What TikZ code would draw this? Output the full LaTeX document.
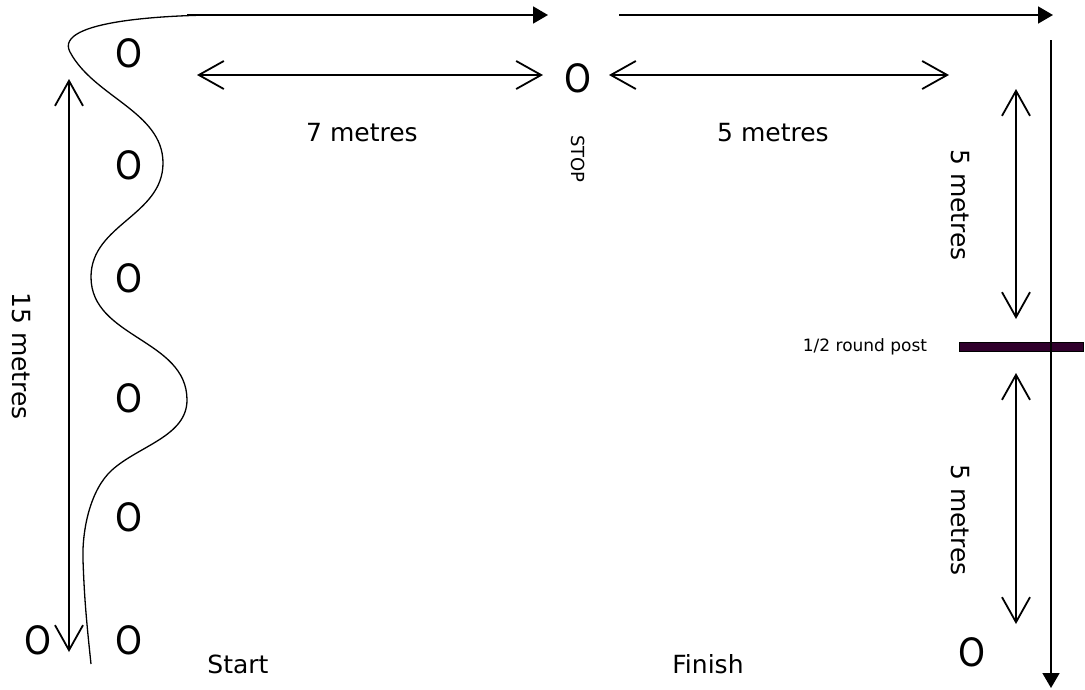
\documentclass[tikz,border=0pt]{standalone}
\usepackage{fontspec}
\setmainfont{DejaVu Sans}
\usetikzlibrary{arrows.meta}
\begin{document}
\begin{tikzpicture}[x=1pt,y=1pt,
  lbl/.style={font=\fontsize{25}{28}\selectfont, inner sep=0pt},
  smalllbl/.style={font=\fontsize{17}{20}\selectfont, inner sep=0pt},
  stoplbl/.style={font=\fontsize{18}{20}\selectfont, inner sep=0pt},
  cone/.style={font=\fontsize{39}{39}\selectfont, inner sep=0pt, transform shape, xscale=0.88},
  route/.style={line width=1.8pt, -{Triangle[length=15pt,width=17pt]}},
  measure/.style={line width=1.8pt, {Straight Barb[length=25pt,width=28pt]}-{Straight Barb[length=25pt,width=28pt]}},
  weave/.style={line width=1.3pt},
  postbar/.style={draw=black, line width=1pt, fill={rgb,255:red,48;green,0;blue,44}}
]
\useasboundingbox (0,0) rectangle (1085,-689);

% cones (O)
\node[cone] (c1) at (129,-53) {O};
\node[cone] (c2) at (129,-165) {O};
\node[cone] (c3) at (129,-278) {O};
\node[cone] (c4) at (129,-398) {O};
\node[cone] (c5) at (129,-517) {O};
\node[cone] (c6) at (129,-640) {O};
\node[cone] (c7) at (38,-640) {O};
\node[cone] (stopcone) at (578,-78) {O};
\node[cone] (endcone) at (972,-652) {O};

% labels
\node[lbl] (l7) at (362,-133) {7 metres};
\node[lbl] (l5a) at (773,-133) {5 metres};
\node[stoplbl, rotate=-90] (stop) at (578,-159) {STOP};
\node[lbl, rotate=-90] (l5b) at (960,-205) {5 metres};
\node[lbl, rotate=-90] (l5c) at (960,-520) {5 metres};
\node[lbl, rotate=-90] (l15) at (21,-356) {15 metres};
\node[smalllbl] (postlbl) at (865,-347) {1/2 round post};
\node[lbl] (start) at (238,-664) {Start};
\node[lbl] (finish) at (708,-664) {Finish};

% post
\path[postbar] (959,-342) rectangle (1083,-351);
\coordinate (post) at (1021,-347);

% route arrows
\coordinate (r1a) at (187,-15);
\coordinate (r1b) at (548,-15);
\coordinate (r2a) at (619,-15);
\coordinate (r2b) at (1053,-15);
\coordinate (r3a) at (1051,-40);
\coordinate (r3b) at (1051,-688);
\draw[route] (r1a) -- (r1b);
\draw[route] (r2a) -- (r2b);
\draw[route] (r3a) -- (r3b);

% measurement arrows
\coordinate (m1a) at (197,-75);
\coordinate (m1b) at (543,-75);
\coordinate (m2a) at (609,-75);
\coordinate (m2b) at (949,-75);
\coordinate (m3a) at (1016,-89);
\coordinate (m3b) at (1016,-319);
\coordinate (m4a) at (1016,-373);
\coordinate (m4b) at (1016,-624);
\coordinate (m5a) at (69,-79);
\coordinate (m5b) at (69,-652);
\draw[measure] (m1a) -- (m1b);
\draw[measure] (m2a) -- (m2b);
\draw[measure] (m3a) -- (m3b);
\draw[measure] (m4a) -- (m4b);
\draw[measure] (m5a) -- (m5b);

% weaving path
\coordinate (w0) at (210,-15);
\coordinate (w1) at (70,-52);
\coordinate (w2) at (163,-163);
\coordinate (w3) at (91,-277);
\coordinate (w4) at (187,-400);
\coordinate (w5) at (112,-470);
\coordinate (w6) at (83,-560);
\coordinate (w7) at (91,-664);
\draw[weave] (w0) to[out=181,in=118,looseness=0.65] (w1)
  to[out=-62,in=90,looseness=0.9] (w2)
  to[out=-90,in=90] (w3)
  to[out=-90,in=90] (w4)
  to[out=-90,in=42,looseness=0.9] (w5)
  to[out=222,in=92,looseness=0.8] (w6)
  to[out=-88,in=96] (w7);
\end{tikzpicture}
\end{document}
